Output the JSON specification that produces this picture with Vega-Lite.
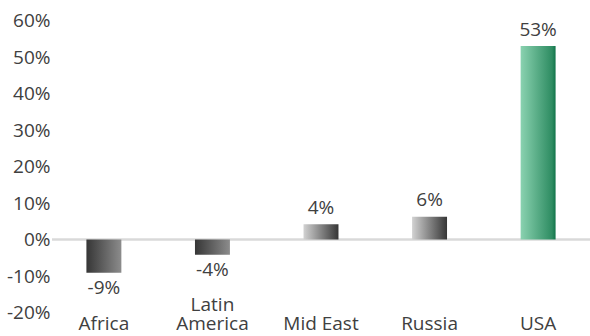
{
  "$schema": "https://vega.github.io/schema/vega-lite/v6.json",
  "width": 538,
  "height": 292,
  "autosize": {"type": "none"},
  "padding": {"left": 52, "top": 20.5, "right": 0, "bottom": 23.5},
  "background": "white",
  "config": {
    "view": {"stroke": null},
    "font": "Open Sans",
    "axis": {"labelFont": "Open Sans", "labelFontSize": 19, "labelColor": "#404040", "grid": false, "domain": false, "ticks": false, "labelOverlap": false}
  },
  "data": {
    "values": [
      {"region": "Africa", "value": -0.091, "group": "neg", "label": "-9%"},
      {"region": "Latin America", "value": -0.042, "group": "neg", "label": "-4%"},
      {"region": "Mid East", "value": 0.042, "group": "pos", "label": "4%"},
      {"region": "Russia", "value": 0.062, "group": "pos", "label": "6%"},
      {"region": "USA", "value": 0.53, "group": "usa", "label": "53%"}
    ]
  },
  "encoding": {
    "x": {
      "field": "region", "type": "nominal", "sort": null,
      "scale": {"paddingInner": 0.678, "paddingOuter": 0.317},
      "axis": {"title": null, "labelAngle": 0, "labelBaseline": "bottom", "labelPadding": 1.5, "labelLineHeight": 19.5,
        "labelExpr": "datum.label == 'Latin America' ? ['Latin', 'America'] : ['', datum.label]"}
    },
    "y": {
      "field": "value", "type": "quantitative",
      "scale": {"domain": [-0.2, 0.6], "nice": false},
      "axis": {"title": null, "format": ".0%", "values": [-0.2, -0.1, 0, 0.1, 0.2, 0.3, 0.4, 0.5, 0.6], "labelPadding": 2,
        "labelExpr": "replace(datum.label, '\u2212', '-')"}
    }
  },
  "layer": [
    {
      "mark": {"type": "rule", "color": "#d9d9d9", "strokeWidth": 1.5},
      "encoding": {"x": {"value": 0}, "x2": {"value": 538}, "y": {"datum": 0}}
    },
    {
      "transform": [{"filter": "datum.group == 'neg'"}],
      "mark": {"type": "bar", "color": {"gradient": "linear", "x1": 0, "x2": 1, "y1": 0, "y2": 0, "stops": [{"offset": 0, "color": "#363636"}, {"offset": 1, "color": "#8c8c8c"}]}},
      "encoding": {"y2": {"datum": 0}}
    },
    {
      "transform": [{"filter": "datum.group == 'pos'"}],
      "mark": {"type": "bar", "color": {"gradient": "linear", "x1": 0, "x2": 1, "y1": 0, "y2": 0, "stops": [{"offset": 0, "color": "#d2d2d2"}, {"offset": 1, "color": "#363636"}]}},
      "encoding": {"y2": {"datum": 0}}
    },
    {
      "transform": [{"filter": "datum.group == 'usa'"}],
      "mark": {"type": "bar", "color": {"gradient": "linear", "x1": 0, "x2": 1, "y1": 0, "y2": 0, "stops": [{"offset": 0, "color": "#8ad2b0"}, {"offset": 0.9, "color": "#2e8c62"}, {"offset": 1, "color": "#11744a"}]}},
      "encoding": {"y2": {"datum": 0}}
    },
    {
      "transform": [{"filter": "datum.value >= 0"}],
      "mark": {"type": "text", "baseline": "middle", "dy": -16.5, "fontSize": 19, "color": "#404040"},
      "encoding": {"text": {"field": "label", "type": "nominal"}}
    },
    {
      "transform": [{"filter": "datum.value < 0"}],
      "mark": {"type": "text", "baseline": "middle", "dy": 15.5, "fontSize": 19, "color": "#404040"},
      "encoding": {"text": {"field": "label", "type": "nominal"}}
    }
  ]
}
